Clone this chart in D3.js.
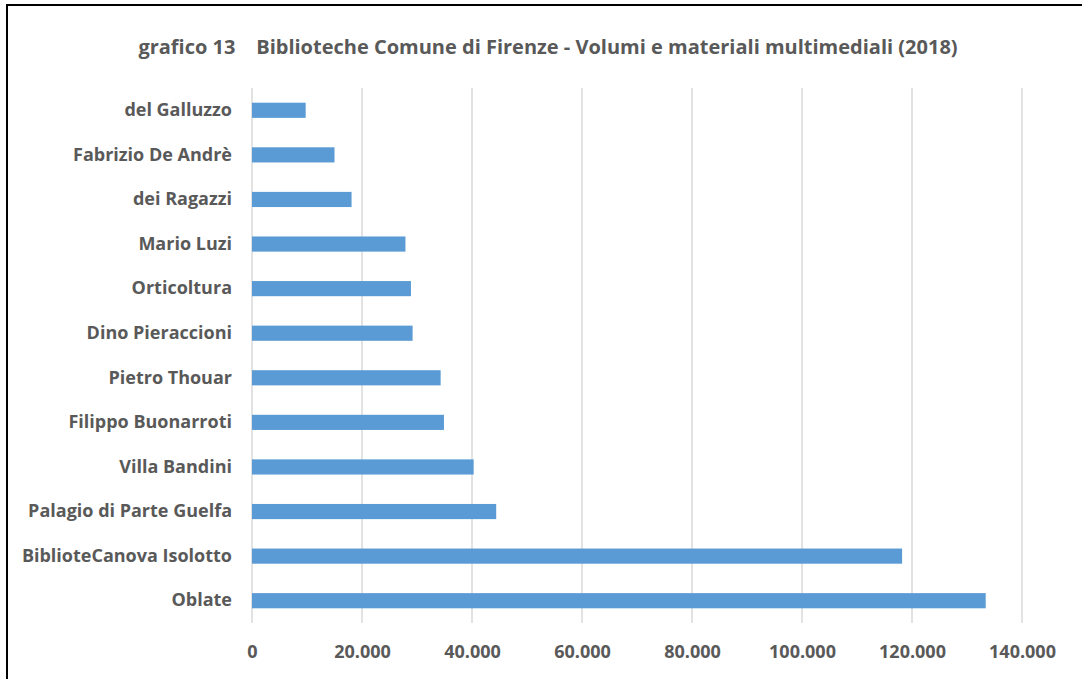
<!DOCTYPE html>
<html lang="it">
<head>
  <meta charset="utf-8">
  <script src="https://d3js.org/d3.v7.min.js"></script>
  <style>
    body { margin: 0; background: #fff; }
    svg text { font-family: "Open Sans", Lato, sans-serif; font-weight: bold; fill: #595959; }
  </style>
</head>
<body>
  <svg width="1082" height="679"></svg>
  <script>
    var categories = ["del Galluzzo", "Fabrizio De Andrè", "dei Ragazzi", "Mario Luzi", "Orticoltura",
      "Dino Pieraccioni", "Pietro Thouar", "Filippo Buonarroti", "Villa Bandini",
      "Palagio di Parte Guelfa", "BiblioteCanova Isolotto", "Oblate"];
    var values = [9760, 15000, 18100, 27900, 28900, 29200, 34300, 34900, 40300, 44400, 118200, 133400];
    var tickValues = [0, 20000, 40000, 60000, 80000, 100000, 120000, 140000];
    var title = "grafico 13    Biblioteche Comune di Firenze - Volumi e materiali multimediali (2018)";

    var svg = d3.select("svg");
    // outer frame (only left and top edges visible in the picture)
    svg.append("rect").attr("x", 7).attr("y", 5).attr("width", 1090).attr("height", 690)
      .attr("fill", "none").attr("stroke", "#000").attr("stroke-width", 2);

    var x = d3.scaleLinear().domain([0, 140000]).range([252, 1022]);
    var y = d3.scaleBand().domain(categories).range([88, 623]).paddingInner(0.66).paddingOuter(0.33);

    svg.append("text").attr("x", 548).attr("y", 54).attr("text-anchor", "middle")
      .style("font-size", "20px").style("white-space", "pre").text(title);

    svg.append("g").selectAll("line").data(tickValues).join("line")
      .attr("x1", d => x(d)).attr("x2", d => x(d)).attr("y1", 88).attr("y2", 623)
      .attr("stroke", "#d9d9d9").attr("stroke-width", 1.5);

    svg.append("g").selectAll("rect").data(values).join("rect")
      .attr("x", x(0)).attr("y", (d, i) => y(categories[i]))
      .attr("width", d => x(d) - x(0)).attr("height", y.bandwidth())
      .attr("fill", "#5b9bd5");

    var fmt = d => d3.format(",")(d).replace(/,/g, ".");
    var xAxis = svg.append("g").attr("transform", "translate(0,623)")
      .call(d3.axisBottom(x).tickValues(tickValues).tickFormat(fmt).tickSize(0).tickPadding(22));
    xAxis.select(".domain").remove();
    xAxis.selectAll("text").style("font-size", "18px");

    var yAxis = svg.append("g").attr("transform", "translate(252,0)")
      .call(d3.axisLeft(y).tickSize(0).tickPadding(20));
    yAxis.select(".domain").remove();
    yAxis.selectAll("text").style("font-size", "18px");
  </script>
</body>
</html>
